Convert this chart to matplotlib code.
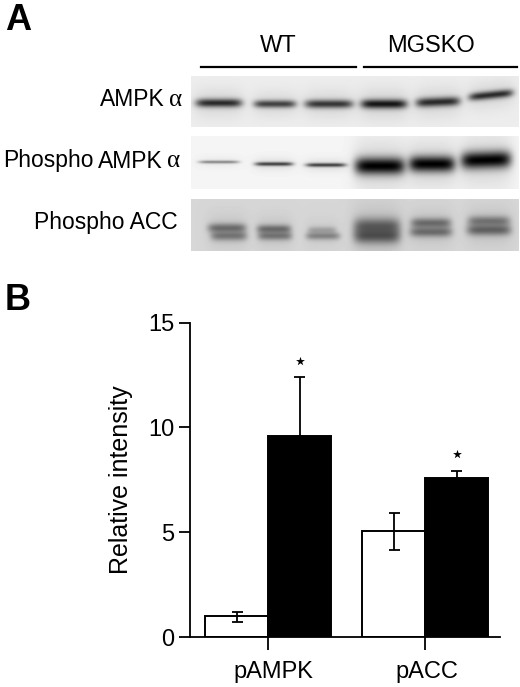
#!/usr/bin/env python3

import numpy as np
import matplotlib
matplotlib.use("Agg")
import matplotlib.pyplot as plt
from matplotlib.transforms import ScaledTranslation

plt.rcParams['font.family'] = ['Liberation Sans', 'DejaVu Sans']

W, H = 520, 687

# bar chart values
groups = ['pAMPK', 'pACC']
wt_vals = [1.02, 5.07]
wt_lo = [0.73, 4.15]
wt_hi = [1.19, 5.90]
ko_vals = [9.59, 7.59]
ko_hi = [12.39, 7.92]
star_y = [13.17, 8.72]
yticks = [0, 5, 10, 15]

# blots: box (x0, x1, y0, y1), background grey
blot_boxes = [(191, 519, 76, 127), (191, 519, 136, 189), (191, 519, 199, 251)]
blot_bg = [0.93, 0.96, 0.84]

# bands in each blot: x, y, half width, half height, darkness, tilt
bands_ampk = [(219, 103, 23, 4.2, 0.8, 0), (275, 104, 21, 3.8, 0.7, 0), (329, 104, 24, 4.2, 0.75, 0),
              (384, 104, 23, 4.6, 0.9, 0), (438, 102, 22, 4.6, 0.8, -0.04), (491, 95, 22, 4.0, 0.8, -0.1)]
bands_pampk = [(219, 162, 20, 1.6, 0.4, 0), (274, 164, 19, 2.0, 0.7, 0), (326, 165, 20, 2.0, 0.7, 0),
               (380, 166, 25, 8.5, 1.0, 0), (432, 164, 23, 8.0, 1.0, 0), (486, 160, 25, 8.5, 1.0, -0.03)]
bands_pacc = [(227, 228, 19, 4.6, 0.45, 0), (229, 236, 18, 4.6, 0.4, 0),
              (274, 229, 17, 4.2, 0.45, 0), (275, 236, 17, 4.2, 0.4, 0),
              (322, 230, 14, 3.4, 0.2, 0), (323, 236, 17, 3.8, 0.35, 0),
              (377, 226, 23, 8.0, 0.5, 0), (377, 236, 23, 7.5, 0.55, 0),
              (431, 223, 20, 5.0, 0.45, 0), (431, 232, 21, 5.0, 0.45, 0),
              (489, 221, 21, 5.0, 0.4, 0), (489, 230, 22, 5.5, 0.5, 0)]
blot_bands = [bands_ampk, bands_pampk, bands_pacc]


def blot_image(box, bg, bands):
    x0, x1, y0, y1 = box
    xx, yy = np.meshgrid(np.arange(x0, x1) + 0.5, np.arange(y0, y1) + 0.5)
    keep = np.ones_like(xx)
    for cx, cy, w, h, dark, tilt in bands:
        dx = (xx - cx) / w
        dy = (yy - cy - tilt * (xx - cx)) / h
        core = np.exp(-dx ** 6 - dy ** 2)
        halo = np.exp(-(dx / 1.1) ** 4 - (dy / 3.5) ** 2)
        keep *= (1 - dark * core) * (1 - 0.12 * dark * halo)
    return bg * keep


fig = plt.figure(figsize=(W / 100, H / 100), dpi=100)

# pixel-coordinate layer for panel A and the panel letters
bg_ax = fig.add_axes([0, 0, 1, 1])
bg_ax.axis('off')

for box, bg, bands in zip(blot_boxes, blot_bg, blot_bands):
    bg_ax.imshow(blot_image(box, bg, bands), cmap='gray', vmin=0, vmax=1,
                 extent=[box[0], box[1], box[3], box[2]], aspect='auto', interpolation='bilinear')
bg_ax.set_xlim(0, W)
bg_ax.set_ylim(H, 0)

bg_ax.plot([201, 356], [67, 67], color='black', lw=1.6)
bg_ax.plot([364, 517], [67, 67], color='black', lw=1.6)
bg_ax.text(278, 46, 'WT', ha='center', va='center', fontsize=17)
bg_ax.text(431, 46, 'MGSKO', ha='center', va='center', fontsize=17)

bg_ax.text(165, 100, 'AMPK', ha='right', va='center', fontsize=16.5)
bg_ax.text(182, 100, 'α', ha='right', va='center', fontsize=18, family='Liberation Serif')
bg_ax.text(3, 161, 'Phospho', ha='left', va='center', fontsize=16.5)
bg_ax.text(163, 161, 'AMPK', ha='right', va='center', fontsize=16.5)
bg_ax.text(180, 161, 'α', ha='right', va='center', fontsize=18, family='Liberation Serif')
bg_ax.text(178, 223, 'Phospho ACC', ha='right', va='center', fontsize=16.5)

bg_ax.text(5, 20, 'A', ha='left', va='center', fontsize=26, fontweight='bold')
bg_ax.text(5, 300, 'B', ha='left', va='center', fontsize=26, fontweight='bold')

# panel B bar chart, axes placed on the pixel grid
ax_x0, ax_x1, ax_top, ax_bot = 189.5, 500, 322.7, 637
ax = fig.add_axes([ax_x0 / W, 1 - ax_bot / H, (ax_x1 - ax_x0) / W, (ax_bot - ax_top) / H])
ax.patch.set_alpha(0)
ax.set_xlim(ax_x0, ax_x1)
ax.set_ylim(0, 15)

pos = np.array([267.7, 425.0])
bar_w = 63
ax.bar(pos - bar_w / 2, wt_vals, bar_w, color='white', edgecolor='black', lw=1.4, zorder=2)
ax.bar(pos + bar_w / 2, ko_vals, bar_w, color='black', edgecolor='black', lw=1.4, zorder=2)

wt_x = pos - bar_w / 2 + 1
ko_x = pos + bar_w / 2 + 0.5
ax.vlines(wt_x, wt_lo, wt_hi, color='black', lw=1.3, zorder=3)
ax.hlines(wt_lo, wt_x - 5.5, wt_x + 5.5, color='black', lw=1.3, zorder=3)
ax.hlines(wt_hi, wt_x - 5.5, wt_x + 5.5, color='black', lw=1.3, zorder=3)
ax.vlines(ko_x, ko_vals, ko_hi, color='black', lw=1.3, zorder=3)
ax.hlines(ko_hi, ko_x - 5.5, ko_x + 5.5, color='black', lw=1.3, zorder=3)
ax.scatter(ko_x, star_y, marker='*', s=45, color='black', linewidths=0, zorder=3)

for s in ['top', 'right']:
    ax.spines[s].set_visible(False)
ax.spines['left'].set_linewidth(1.3)
ax.spines['bottom'].set_linewidth(1.3)

ax.set_yticks(yticks)
ax.set_xticks(pos)
ax.set_xticklabels(groups)
ax.tick_params(axis='y', labelsize=17, length=8, width=1.3, pad=3)
ax.tick_params(axis='x', labelsize=17, length=9, width=1.3, pad=8)
ax.set_ylabel('Relative intensity', fontsize=18, labelpad=11)

# the x labels sit a little right of their ticks
for lab, shift in zip(ax.get_xticklabels(), [5.5, 2]):
    lab.set_transform(lab.get_transform() + ScaledTranslation(shift / 100, 0, fig.dpi_scale_trans))

fig.savefig('out.png', dpi=100)
